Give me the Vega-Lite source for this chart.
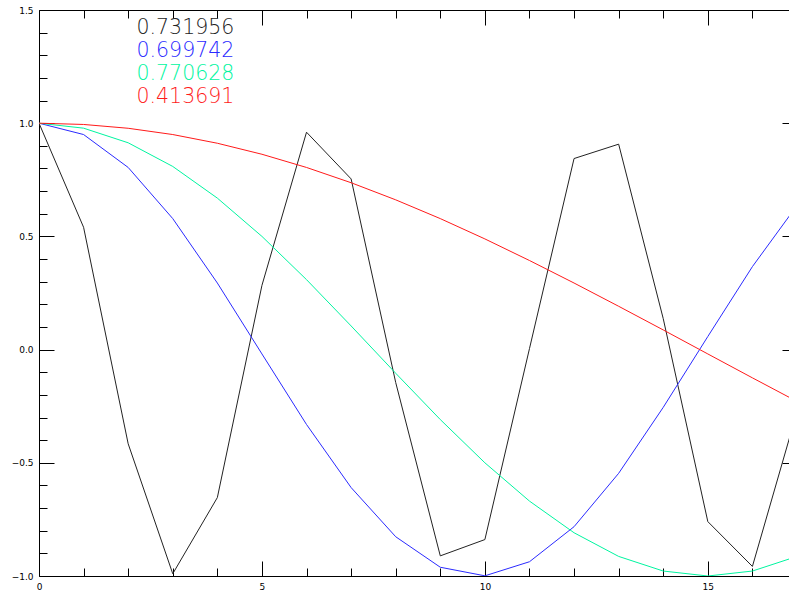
{
  "$schema": "https://vega.github.io/schema/vega-lite/v6.json",
  "width": 758,
  "height": 566,
  "autosize": {"type": "none"},
  "padding": {"left": 39, "top": 10, "right": 0, "bottom": 19},
  "background": "white",
  "config": {
    "view": {"stroke": null},
    "axis": {"grid": false, "domainColor": "black", "tickColor": "black", "labelColor": "black", "labelFont": "DejaVu Sans", "labelFontSize": 9, "title": null, "domainWidth": 1, "tickWidth": 1}
  },
  "data": {"values": [
    {"x":0,"s":"0.731956","y":1},{"x":1,"s":"0.731956","y":0.5403},{"x":2,"s":"0.731956","y":-0.4161},{"x":3,"s":"0.731956","y":-0.99},{"x":4,"s":"0.731956","y":-0.6536},{"x":5,"s":"0.731956","y":0.2837},{"x":6,"s":"0.731956","y":0.9602},{"x":7,"s":"0.731956","y":0.7539},{"x":8,"s":"0.731956","y":-0.1455},{"x":9,"s":"0.731956","y":-0.9111},{"x":10,"s":"0.731956","y":-0.8391},{"x":11,"s":"0.731956","y":0.0044},{"x":12,"s":"0.731956","y":0.8439},{"x":13,"s":"0.731956","y":0.9074},{"x":14,"s":"0.731956","y":0.1367},{"x":15,"s":"0.731956","y":-0.7597},{"x":16,"s":"0.731956","y":-0.9577},{"x":17,"s":"0.731956","y":-0.2752},
    {"x":0,"s":"0.699742","y":1},{"x":1,"s":"0.699742","y":0.9499},{"x":2,"s":"0.699742","y":0.8045},{"x":3,"s":"0.699742","y":0.5786},{"x":4,"s":"0.699742","y":0.2941},{"x":5,"s":"0.699742","y":-0.0192},{"x":6,"s":"0.699742","y":-0.3308},{"x":7,"s":"0.699742","y":-0.6094},{"x":8,"s":"0.699742","y":-0.8266},{"x":9,"s":"0.699742","y":-0.9613},{"x":10,"s":"0.699742","y":-0.9992},{"x":11,"s":"0.699742","y":-0.937},{"x":12,"s":"0.699742","y":-0.7822},{"x":13,"s":"0.699742","y":-0.5465},{"x":14,"s":"0.699742","y":-0.255},{"x":15,"s":"0.699742","y":0.0578},{"x":16,"s":"0.699742","y":0.3665},{"x":17,"s":"0.699742","y":0.6365},
    {"x":0,"s":"0.770628","y":1},{"x":1,"s":"0.770628","y":0.9781},{"x":2,"s":"0.770628","y":0.9135},{"x":3,"s":"0.770628","y":0.809},{"x":4,"s":"0.770628","y":0.6691},{"x":5,"s":"0.770628","y":0.5},{"x":6,"s":"0.770628","y":0.309},{"x":7,"s":"0.770628","y":0.1045},{"x":8,"s":"0.770628","y":-0.1045},{"x":9,"s":"0.770628","y":-0.309},{"x":10,"s":"0.770628","y":-0.5},{"x":11,"s":"0.770628","y":-0.6691},{"x":12,"s":"0.770628","y":-0.809},{"x":13,"s":"0.770628","y":-0.9135},{"x":14,"s":"0.770628","y":-0.9781},{"x":15,"s":"0.770628","y":-1},{"x":16,"s":"0.770628","y":-0.9781},{"x":17,"s":"0.770628","y":-0.9135},
    {"x":0,"s":"0.413691","y":1},{"x":1,"s":"0.413691","y":0.9944},{"x":2,"s":"0.413691","y":0.9776},{"x":3,"s":"0.413691","y":0.9499},{"x":4,"s":"0.413691","y":0.9115},{"x":5,"s":"0.413691","y":0.8628},{"x":6,"s":"0.413691","y":0.8045},{"x":7,"s":"0.413691","y":0.7371},{"x":8,"s":"0.413691","y":0.6615},{"x":9,"s":"0.413691","y":0.5786},{"x":10,"s":"0.413691","y":0.4889},{"x":11,"s":"0.413691","y":0.3935},{"x":12,"s":"0.413691","y":0.2941},{"x":13,"s":"0.413691","y":0.1914},{"x":14,"s":"0.413691","y":0.0868},{"x":15,"s":"0.413691","y":-0.0192},{"x":16,"s":"0.413691","y":-0.1248},{"x":17,"s":"0.413691","y":-0.229}
  ]},
  "resolve": {"axis": {"x": "independent", "y": "independent"}},
  "layer": [
    {
      "mark": {"type": "line", "strokeWidth": 1, "clip": true},
      "encoding": {
        "x": {"field": "x", "type": "quantitative", "scale": {"domain": [0, 17], "nice": false, "zero": false},
          "axis": {"orient": "bottom", "values": [0,1,2,3,4,5,6,7,8,9,10,11,12,13,14,15,16,17],
            "labelExpr": "datum.value % 5 === 0 ? datum.label : ''",
            "tickSize": {"condition": {"test": "datum.value % 5 === 0", "value": -15}, "value": -8},
            "labelPadding": 21, "labelFlush": false, "labelOverlap": false}},
        "y": {"field": "y", "type": "quantitative", "scale": {"domain": [-1, 1.5], "nice": false, "zero": false},
          "axis": {"orient": "left", "values": [-1,-0.9,-0.8,-0.7,-0.6,-0.5,-0.4,-0.3,-0.2,-0.1,0,0.1,0.2,0.3,0.4,0.5,0.6,0.7,0.8,0.9,1,1.1,1.2,1.3,1.4,1.5],
            "format": ".1f",
            "labelExpr": "abs(round(datum.value*2) - datum.value*2) < 0.000001 ? datum.label : ''",
            "tickSize": {"condition": {"test": "abs(round(datum.value*2) - datum.value*2) < 0.000001", "value": -15}, "value": -8},
            "labelPadding": 21, "labelFlush": false, "labelOverlap": false}},
        "color": {"field": "s", "type": "nominal",
          "scale": {"domain": ["0.731956", "0.699742", "0.770628", "0.413691"], "range": ["#222222", "#2a2aff", "#00f5a0", "#ff1a1a"]},
          "legend": {"orient": "none", "legendX": 77, "legendY": 7.5, "title": null, "padding": 0,
            "symbolSize": 0, "symbolOpacity": 0, "symbolStrokeWidth": 0, "labelOffset": 0,
            "labelFont": "DejaVu Sans", "labelFontWeight": 200, "labelFontSize": 20.5, "rowPadding": 2.2,
            "encode": {"labels": {"update": {"fill": {"scale": "color", "field": "value"}}}}}},
        "detail": {"field": "s"}
      }
    },
    {
      "mark": {"type": "line", "strokeOpacity": 0},
      "encoding": {
        "x": {"field": "x", "type": "quantitative",
          "axis": {"orient": "top", "values": [0,1,2,3,4,5,6,7,8,9,10,11,12,13,14,15,16,17], "labels": false,
            "tickSize": {"condition": {"test": "datum.value % 5 === 0", "value": -15}, "value": -8}}},
        "y": {"field": "y", "type": "quantitative",
          "axis": {"orient": "right", "values": [-1,-0.9,-0.8,-0.7,-0.6,-0.5,-0.4,-0.3,-0.2,-0.1,0,0.1,0.2,0.3,0.4,0.5,0.6,0.7,0.8,0.9,1,1.1,1.2,1.3,1.4,1.5], "labels": false,
            "tickSize": {"condition": {"test": "abs(round(datum.value*2) - datum.value*2) < 0.000001", "value": -15}, "value": -8}}},
        "detail": {"field": "s"}
      }
    }
  ]
}
